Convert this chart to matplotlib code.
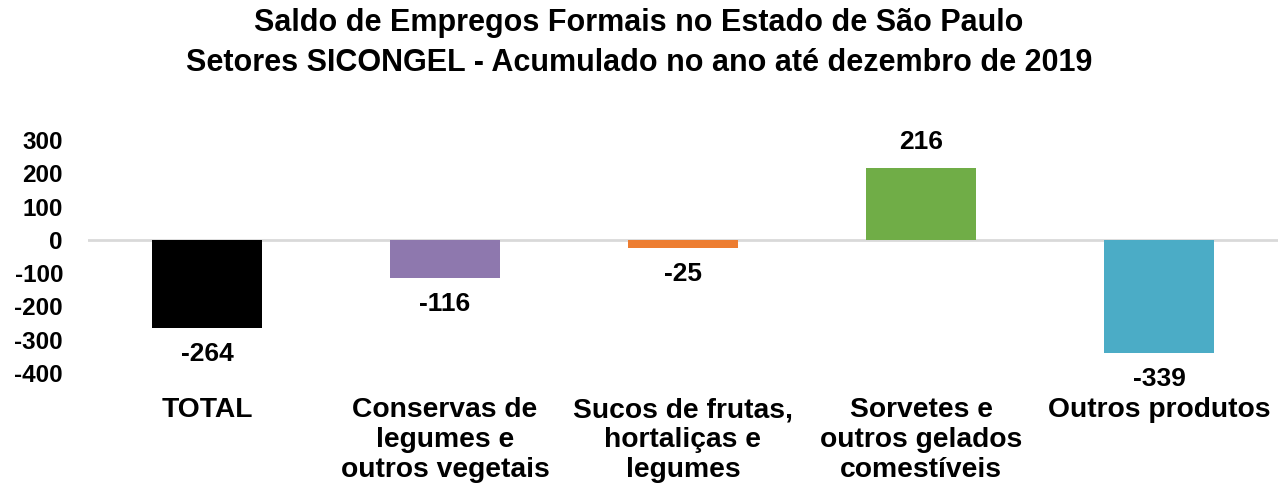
import matplotlib
matplotlib.use("Agg")
import matplotlib.pyplot as plt

categories = ["TOTAL", "Conservas de\nlegumes e\noutros vegetais", "Sucos de frutas,\nhortaliças e\nlegumes",
              "Sorvetes e\noutros gelados\ncomestíveis", "Outros produtos"]
values = [-264, -116, -25, 216, -339]
colors = ["#000000", "#8E78AE", "#ED7D31", "#70AD47", "#4BACC6"]
yticks = [300, 200, 100, 0, -100, -200, -300, -400]

plt.rcParams['font.family'] = ['Liberation Sans', 'DejaVu Sans']
plt.rcParams['font.weight'] = 'bold'

fig = plt.figure(figsize=(12.78, 4.88), dpi=100)
ax = fig.add_axes([88/1278, (488-373)/488, 1 - 88/1278, (373-140)/488])

x = list(range(len(categories)))
bars = ax.bar(x, values, width=0.46, color=colors)
ax.set_xlim(-0.5, len(categories) - 0.5)
ax.set_ylim(-400, 300)
ax.axhline(0, color="#d9d9d9", lw=2, zorder=0)
for s in ax.spines.values():
    s.set_visible(False)
ax.set_yticks(yticks)
ax.set_yticklabels([str(v) for v in yticks], fontsize=17.5, fontweight='bold')
ax.set_xticks(x)
ax.set_xticklabels(categories, fontsize=20.3, fontweight='bold', va='top', linespacing=1.2)
ax.tick_params(axis='y', length=0, pad=18)
ax.tick_params(axis='x', length=0, pad=17.5)

for xi, v in zip(x, values):
    off = 10 if v >= 0 else -10
    ax.annotate(str(v), (xi, v), xytext=(0, off), textcoords='offset points',
                ha='center', va='bottom' if v >= 0 else 'top', fontsize=19, fontweight='bold')

fig.text(0.5, 1 - 23/488, "Saldo de Empregos Formais no Estado de São Paulo", ha='center', va='center',
         fontsize=22, fontweight='bold')
fig.text(0.5, 1 - 63/488, "Setores SICONGEL - Acumulado no ano até dezembro de 2019", ha='center', va='center',
         fontsize=22, fontweight='bold')

fig.savefig("out.png", dpi=100)
